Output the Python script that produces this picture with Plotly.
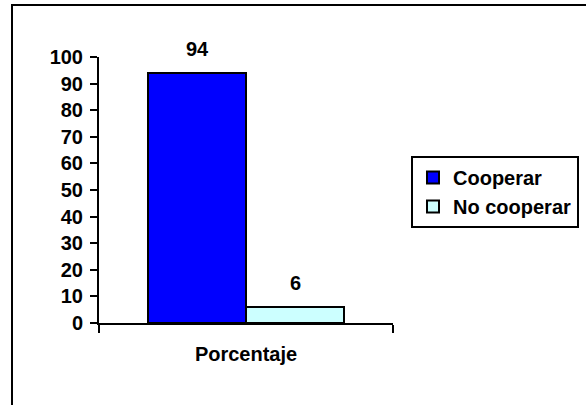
import plotly.graph_objects as go

categories = ["Porcentaje"]
series_names = ["Cooperar", "No cooperar"]
series_values = [[94], [6]]
series_colors = ["#0000FF", "#CCFFFF"]
y_ticks = list(range(0, 101, 10))

FONT = "Liberation Sans, Arial, sans-serif"
FS = 20

W, H = 586, 405
# plot area geometry (pixels)
L, R, T, B = 99, 193, 57, 82
PW = W - L - R
PH = H - T - B

fig = go.Figure()
for name, vals, col in zip(series_names, series_values, series_colors):
    fig.add_trace(go.Bar(
        x=categories, y=vals, name=f"<b>{name}</b>",
        marker=dict(color=col, line=dict(color="black", width=2)),
        legendgroup=name,
    ))

# value labels above bars
n = len(series_names)
for i, (name, vals) in enumerate(zip(series_names, series_values)):
    for j, v in enumerate(vals):
        fig.add_annotation(
            x=j, y=v, xref="x", yref="y", text=f"<b>{v}</b>",
            showarrow=False, yanchor="bottom", yshift=11,
            xshift=(i - (n - 1) / 2) * PW / 3,
            font=dict(family=FONT, size=FS, color="black"),
        )

fig.update_layout(
    width=W, height=H,
    margin=dict(l=L, r=R, t=T, b=B, autoexpand=False),
    paper_bgcolor="white", plot_bgcolor="white",
    barmode="group", bargap=1/3, bargroupgap=0,
    font=dict(family=FONT, size=FS, color="black"),
    showlegend=True,
    legend=dict(
        xref="container", yref="container",
        x=411 / W, y=1 - 156 / H, xanchor="left", yanchor="top",
        bordercolor="black", borderwidth=2, bgcolor="white",
        font=dict(family=FONT, size=FS, color="black"),
        tracegroupgap=0, traceorder="grouped",
    ),
    xaxis=dict(
        type="category", tickson="boundaries",
        ticks="outside", ticklen=8, tickwidth=2, tickcolor="black",
        showline=True, linecolor="black", linewidth=2,
        showgrid=False, zeroline=False,
        ticklabelstandoff=12,
        tickfont=dict(family=FONT, size=FS, color="black"),
        tickvals=categories, ticktext=[f"<b>{c}</b>" for c in categories],
    ),
    yaxis=dict(
        range=[0, 100], tickvals=y_ticks,
        ticktext=[f"<b>{t}</b>" for t in y_ticks],
        ticks="outside", ticklen=7, tickwidth=2, tickcolor="black",
        showline=True, linecolor="black", linewidth=2,
        showgrid=False, zeroline=False,
        ticklabelstandoff=3,
        tickfont=dict(family=FONT, size=FS, color="black"),
    ),
    shapes=[dict(
        type="rect", xref="paper", yref="paper",
        x0=(12 - L) / PW, x1=(600 - L) / PW,
        y0=(323 - 430) / PH, y1=(323 - 5) / PH,
        line=dict(color="black", width=2), fillcolor="rgba(0,0,0,0)",
        layer="below",
    )],
)

fig.write_html("out.html", config={"displayModeBar": False},
               post_script="document.body.style.margin='0';document.body.style.overflow='hidden';")
